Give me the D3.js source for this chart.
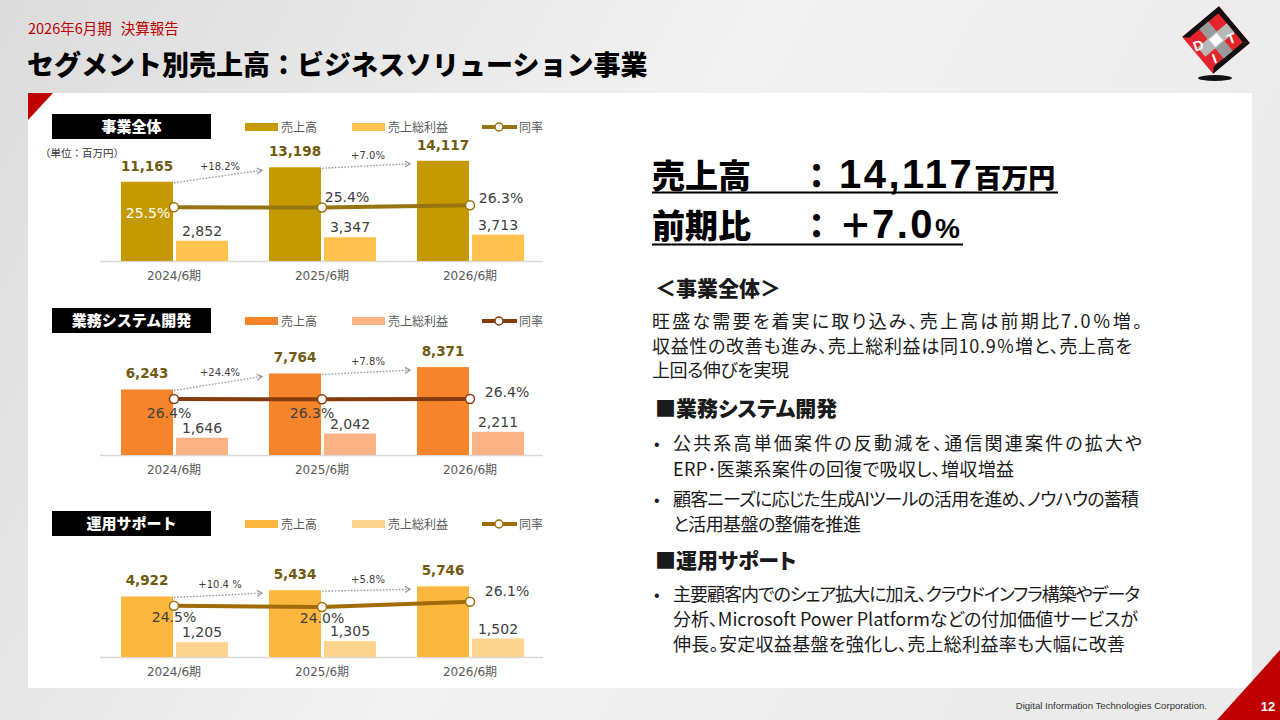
<!DOCTYPE html>
<html><head><meta charset="utf-8">
<script src="https://cdn.jsdelivr.net/npm/d3@7"></script>
<style>
html,body{margin:0;padding:0;overflow:hidden;background:#fff;}
svg{display:block;}
</style></head><body>
<svg id="c" width="1280" height="720"></svg>
<script>
// ---------- data ----------
const categories = ["2024/6期", "2025/6期", "2026/6期"];
const legendLabels = ["売上高", "売上総利益", "同率"];
const segmentNames = ["事業全体", "業務システム開発", "運用サポート"];

const salesTotal = [11165, 13198, 14117];
const grossTotal = [2852, 3347, 3713];
const rateTotal = [25.5, 25.4, 26.3];
const growthTotal = ["+18.2%", "+7.0%"];

const salesDev = [6243, 7764, 8371];
const grossDev = [1646, 2042, 2211];
const rateDev = [26.4, 26.3, 26.4];
const growthDev = ["+24.4%", "+7.8%"];

const salesOps = [4922, 5434, 5746];
const grossOps = [1205, 1305, 1502];
const rateOps = [24.5, 24.0, 26.1];
const growthOps = ["+10.4 %", "+5.8%"];

const headlineSales = "14,117";
const headlineGrowth = "7.0";

const paraTotal = [
  "旺盛な需要を着実に取り込み、売上高は前期比7.0％増。",
  "収益性の改善も進み、売上総利益は同10.9％増と、売上高を",
  "上回る伸びを実現"
];
const bulletsDev = [
  ["公共系高単価案件の反動減を、通信関連案件の拡大や", "ERP･医薬系案件の回復で吸収し、増収増益"],
  ["顧客ニーズに応じた生成AIツールの活用を進め、ノウハウの蓄積", "と活用基盤の整備を推進"]
];
const bulletsOps = [
  ["主要顧客内でのシェア拡大に加え、クラウドインフラ構築やデータ", "分析、Microsoft Power Platformなどの付加価値サービスが", "伸長。安定収益基盤を強化し、売上総利益率も大幅に改善"]
];

// ---------- layout ----------
const JP = '"Noto Sans CJK JP","Noto Sans",sans-serif';
const NUM = '"DejaVu Sans","Noto Sans CJK JP",sans-serif';
const svg = d3.select("#c");
const defs = svg.append("defs");

const bg = defs.append("linearGradient").attr("id", "bg").attr("x1", 0).attr("y1", 0).attr("x2", 1).attr("y2", 0.3);
bg.append("stop").attr("offset", "0%").attr("stop-color", "#dcdcdc");
bg.append("stop").attr("offset", "55%").attr("stop-color", "#f2f2f2");
bg.append("stop").attr("offset", "100%").attr("stop-color", "#ebebeb");
svg.append("rect").attr("width", 1280).attr("height", 720).attr("fill", "url(#bg)");

defs.append("marker").attr("id", "arr").attr("markerUnits", "userSpaceOnUse")
  .attr("markerWidth", 10).attr("markerHeight", 10).attr("refX", 6).attr("refY", 4).attr("orient", "auto")
  .append("path").attr("d", "M1,1 L6,4 L1,7").attr("fill", "none").attr("stroke", "#9a9a9a").attr("stroke-width", 1.3);

// white panel
svg.append("rect").attr("x", 28).attr("y", 93).attr("width", 1224).attr("height", 595).attr("fill", "#fff");
svg.append("path").attr("d", "M28,93 L53,93 L28,120 Z").attr("fill", "#c00000");
svg.append("path").attr("d", "M1217,720 L1280,650 L1280,720 Z").attr("fill", "#c00000");

// header
const sub = svg.append("text").attr("x", 28).attr("y", 34).attr("font-family", JP).attr("font-size", 14.5)
  .attr("fill", "#c00000");
sub.append("tspan").text("2026年6月期");
sub.append("tspan").attr("dx", 9).text("決算報告");
svg.append("text").attr("x", 27).attr("y", 75).attr("font-family", JP).attr("font-size", 27)
  .attr("font-weight", 900).attr("fill", "#000").text("セグメント別売上高：ビジネスソリューション事業");

// logo
const logo = svg.append("g").attr("transform", "translate(1216,40) rotate(-40)");
logo.append("rect").attr("x", -24).attr("y", -24).attr("width", 48).attr("height", 48).attr("fill", "#e4242a");
logo.append("path").attr("d", "M-24,-24 L24,-24 L24,24 L19,19 L19,-19 L-19,-19 Z").attr("fill", "#111");
logo.append("path").attr("d", "M-24,24 L-19,19 L19,19 L24,24 Z").attr("fill", "#111");
logo.append("rect").attr("x", -6).attr("y", -19).attr("width", 12).attr("height", 38).attr("fill", "#9a9a9a");
logo.append("rect").attr("x", -19).attr("y", -6).attr("width", 38).attr("height", 12).attr("fill", "#b8b8b8");
logo.append("rect").attr("x", -5).attr("y", -5).attr("width", 10).attr("height", 10).attr("fill", "#fff");
[["D", 1200, 50, -20], ["I", 1216, 63, -20], ["T", 1233, 43, -20]].forEach(([t, lx, ly, r]) => {
  svg.append("text").attr("transform", `translate(${lx},${ly}) rotate(${r})`).attr("text-anchor", "middle")
    .attr("font-family", "Liberation Sans").attr("font-weight", 700).attr("font-size", 14).attr("fill", "#fff").text(t);
});
svg.append("ellipse").attr("cx", 1215).attr("cy", 78).attr("rx", 17).attr("ry", 3).attr("fill", "#111");

// ---------- charts ----------
const panels = [
  { name: segmentNames[0], sales: salesTotal, gross: grossTotal, rate: rateTotal, growth: growthTotal,
    top: 114, base: 261, max: 20000, h: 142, unit: true,
    col: { sales: "#c49a00", gross: "#fec24f", line: "#957411" },
    rl: [[-26, 6, "#fff"], [25, -10.5], [31, -7]] },
  { name: segmentNames[1], sales: salesDev, gross: grossDev, rate: rateDev, growth: growthDev,
    top: 308, base: 455, max: 10000, h: 105, unit: false,
    col: { sales: "#f5842a", gross: "#f9b384", line: "#843c0c" },
    rl: [[-5, 14], [-10, 14], [37, -7]] },
  { name: segmentNames[2], sales: salesOps, gross: grossOps, rate: rateOps, growth: growthOps,
    top: 511, base: 657, max: 8000, h: 98.4, unit: false,
    col: { sales: "#fcb73e", gross: "#fed58e", line: "#a06c0a" },
    rl: [[0, 11], [0, 11], [37, -11]] }
];

const x = d3.scaleBand().domain(categories).range([100, 544]).padding(0);
const barW = 52;

panels.forEach(p => {
  const g = svg.append("g");
  const y = d3.scaleLinear().domain([0, p.max]).range([p.base, p.base - p.h]);
  const yr = d3.scaleLinear().domain([4, 44]).range([p.base, p.base - 100]);
  const cx = c => x(c) + x.bandwidth() / 2;

  // title box
  g.append("rect").attr("x", 52).attr("y", p.top).attr("width", 159).attr("height", 25).attr("fill", "#000");
  g.append("text").attr("x", 131.5).attr("y", p.top + 18).attr("text-anchor", "middle").attr("font-family", JP)
    .attr("font-size", 15).attr("font-weight", 900).attr("fill", "#fff").text(p.name);

  // legend
  const ly = p.top + 13;
  g.append("rect").attr("x", 245).attr("y", ly - 4).attr("width", 33).attr("height", 8).attr("fill", p.col.sales);
  g.append("rect").attr("x", 352).attr("y", ly - 4).attr("width", 33).attr("height", 8).attr("fill", p.col.gross);
  g.append("line").attr("x1", 482).attr("x2", 517).attr("y1", ly).attr("y2", ly).attr("stroke", p.col.line).attr("stroke-width", 4);
  g.append("circle").attr("cx", 499).attr("cy", ly).attr("r", 4).attr("fill", "#fff").attr("stroke", p.col.line).attr("stroke-width", 1.5);
  [[281, legendLabels[0]], [388, legendLabels[1]], [519, legendLabels[2]]].forEach(([lx, t]) => {
    g.append("text").attr("x", lx).attr("y", ly + 4.5).attr("font-family", JP).attr("font-size", 12).attr("fill", "#595959").text(t);
  });

  if (p.unit) {
    g.append("text").attr("x", 40).attr("y", 157).attr("font-family", JP).attr("font-size", 10.5).attr("fill", "#333").text("（単位：百万円）");
  }

  // baseline axis
  g.append("line").attr("x1", 100).attr("x2", 543).attr("y1", p.base + 0.5).attr("y2", p.base + 0.5)
    .attr("stroke", "#d9d9d9").attr("stroke-width", 1.5);
  const axis = d3.axisBottom(x).tickSize(0).tickPadding(0);
  const ax = g.append("g").attr("transform", `translate(0,${p.base + 19})`).call(axis);
  ax.select(".domain").remove();
  ax.selectAll("text").attr("font-family", NUM).attr("font-size", 12).attr("fill", "#595959").attr("dy", 0);

  // bars
  g.selectAll(".s").data(categories).join("rect")
    .attr("x", c => cx(c) - barW - 1).attr("y", (c, i) => y(p.sales[i]))
    .attr("width", barW).attr("height", (c, i) => p.base - y(p.sales[i])).attr("fill", p.col.sales);
  g.selectAll(".gb").data(categories).join("rect")
    .attr("x", c => cx(c) + 2).attr("y", (c, i) => y(p.gross[i]))
    .attr("width", barW).attr("height", (c, i) => p.base - y(p.gross[i])).attr("fill", p.col.gross);

  // growth arrows
  p.growth.forEach((t, i) => {
    const x1 = cx(categories[i]), y1 = y(p.sales[i]) + 1;
    const x2 = cx(categories[i + 1]) - barW - 8, y2 = y(p.sales[i + 1]) + 3;
    g.append("line").attr("x1", x1).attr("y1", y1).attr("x2", x2).attr("y2", y2)
      .attr("stroke", "#9a9a9a").attr("stroke-width", 1.4).attr("stroke-dasharray", "1.6,1.6").attr("marker-end", "url(#arr)");
    g.append("text").attr("x", (x1 + x2) / 2 + 2).attr("y", (y1 + y2) / 2 - 7).attr("text-anchor", "middle")
      .attr("font-family", NUM).attr("font-size", 10).attr("fill", "#404040").text(t);
  });

  // value labels
  categories.forEach((c, i) => {
    g.append("text").attr("x", cx(c) - barW / 2 - 1).attr("y", y(p.sales[i]) - 11).attr("text-anchor", "middle")
      .attr("font-family", NUM).attr("font-weight", 700).attr("font-size", 13.5).attr("fill", "#705a10")
      .text(d3.format(",")(p.sales[i]));
    g.append("text").attr("x", cx(c) + 2 + barW / 2).attr("y", y(p.gross[i]) - 5).attr("text-anchor", "middle")
      .attr("font-family", NUM).attr("font-size", 14).attr("fill", "#404040")
      .text(d3.format(",")(p.gross[i]));
  });

  // rate line
  const line = d3.line().x((d, i) => cx(categories[i])).y(d => yr(d));
  g.append("path").attr("d", line(p.rate)).attr("fill", "none").attr("stroke", p.col.line).attr("stroke-width", 4);
  g.selectAll(".pt").data(p.rate).join("circle")
    .attr("cx", (d, i) => cx(categories[i])).attr("cy", d => yr(d)).attr("r", 4.5)
    .attr("fill", "#fff").attr("stroke", p.col.line).attr("stroke-width", 1.5);
  p.rate.forEach((d, i) => {
    const [dx, dy, col] = p.rl[i];
    g.append("text").attr("x", cx(categories[i]) + dx).attr("y", yr(d) + dy + 5).attr("text-anchor", "middle")
      .attr("font-family", NUM).attr("font-size", 14).attr("fill", col || "#404040").text(d.toFixed(1) + "%");
  });
});

// ---------- right side text ----------
const R = svg.append("g");
const h1 = R.append("text").attr("y", 188).attr("font-weight", 900).attr("fill", "#000");
h1.append("tspan").attr("x", 652).attr("font-family", JP).attr("font-size", 33).text("売上高");
h1.append("tspan").attr("x", 800).attr("font-family", JP).attr("font-size", 33).text("：");
h1.append("tspan").attr("x", 839).attr("font-family", "Liberation Sans").attr("font-size", 40).attr("letter-spacing", 2.5).text(headlineSales);
h1.append("tspan").attr("font-family", JP).attr("font-size", 27).text("百万円");
R.append("line").attr("x1", 652).attr("x2", 1058).attr("y1", 192.5).attr("y2", 192.5).attr("stroke", "#000").attr("stroke-width", 2);

const h2 = R.append("text").attr("y", 238).attr("font-weight", 900).attr("fill", "#000");
h2.append("tspan").attr("x", 652).attr("font-family", JP).attr("font-size", 33).text("前期比");
h2.append("tspan").attr("x", 800).attr("font-family", JP).attr("font-size", 33).text("：");
h2.append("tspan").attr("x", 839).attr("font-family", JP).attr("font-size", 33).text("＋");
h2.append("tspan").attr("font-family", "Liberation Sans").attr("font-size", 40).attr("letter-spacing", 2.5).text(headlineGrowth);
h2.append("tspan").attr("font-family", "Liberation Sans").attr("font-size", 28).text("%");
R.append("line").attr("x1", 652).attr("x2", 963).attr("y1", 244.5).attr("y2", 244.5).attr("stroke", "#000").attr("stroke-width", 2);

const body = (t, xx, yy, size, weight, len) => {
  const el = R.append("text").attr("x", xx).attr("y", yy).attr("font-family", JP)
    .attr("font-size", size).attr("font-weight", weight || 400).attr("fill", "#1a1a1a")
    .style("font-feature-settings", '"palt" 1').text(t);
  if (len) el.attr("textLength", len).attr("lengthAdjust", "spacing");
  return el;
};

// line widths measured to mimic the reference typeface's proportional spacing
const paraW = [490, 480, 137];
const devW = [[469, 341], [466, 188]];
const opsW = [[467, 465, 452]];
const FS = 18;

body("＜事業全体＞", 655, 296, 21, 900);
[328, 353, 377].forEach((yy, i) => body(paraTotal[i], 652, yy, FS, 400, paraW[i]));
body("■業務システム開発", 655, 416, 21, 900);
const devY = [[450, 476], [506, 531]];
bulletsDev.forEach((lines, b) => {
  R.append("text").attr("x", 654).attr("y", devY[b][0]).attr("font-family", "Liberation Sans").attr("font-size", 16).attr("fill", "#1a1a1a").text("•");
  lines.forEach((t, i) => body(t, 673, devY[b][i], FS, 400, devW[b][i]));
});
body("■運用サポート", 655, 568, 21, 900);
const opsY = [[601, 626, 651]];
bulletsOps.forEach((lines, b) => {
  R.append("text").attr("x", 654).attr("y", opsY[b][0]).attr("font-family", "Liberation Sans").attr("font-size", 16).attr("fill", "#1a1a1a").text("•");
  lines.forEach((t, i) => body(t, 673, opsY[b][i], FS, 400, opsW[b][i]));
});

// footer
svg.append("text").attr("x", 1207).attr("y", 709).attr("text-anchor", "end").attr("font-family", "Liberation Sans")
  .attr("font-size", 9.6).attr("fill", "#333").text("Digital Information Technologies Corporation.");
svg.append("text").attr("x", 1268).attr("y", 711).attr("text-anchor", "middle").attr("font-family", "Liberation Sans")
  .attr("font-size", 13).attr("font-weight", 700).attr("fill", "#fff").text("12");
</script>
</body></html>
